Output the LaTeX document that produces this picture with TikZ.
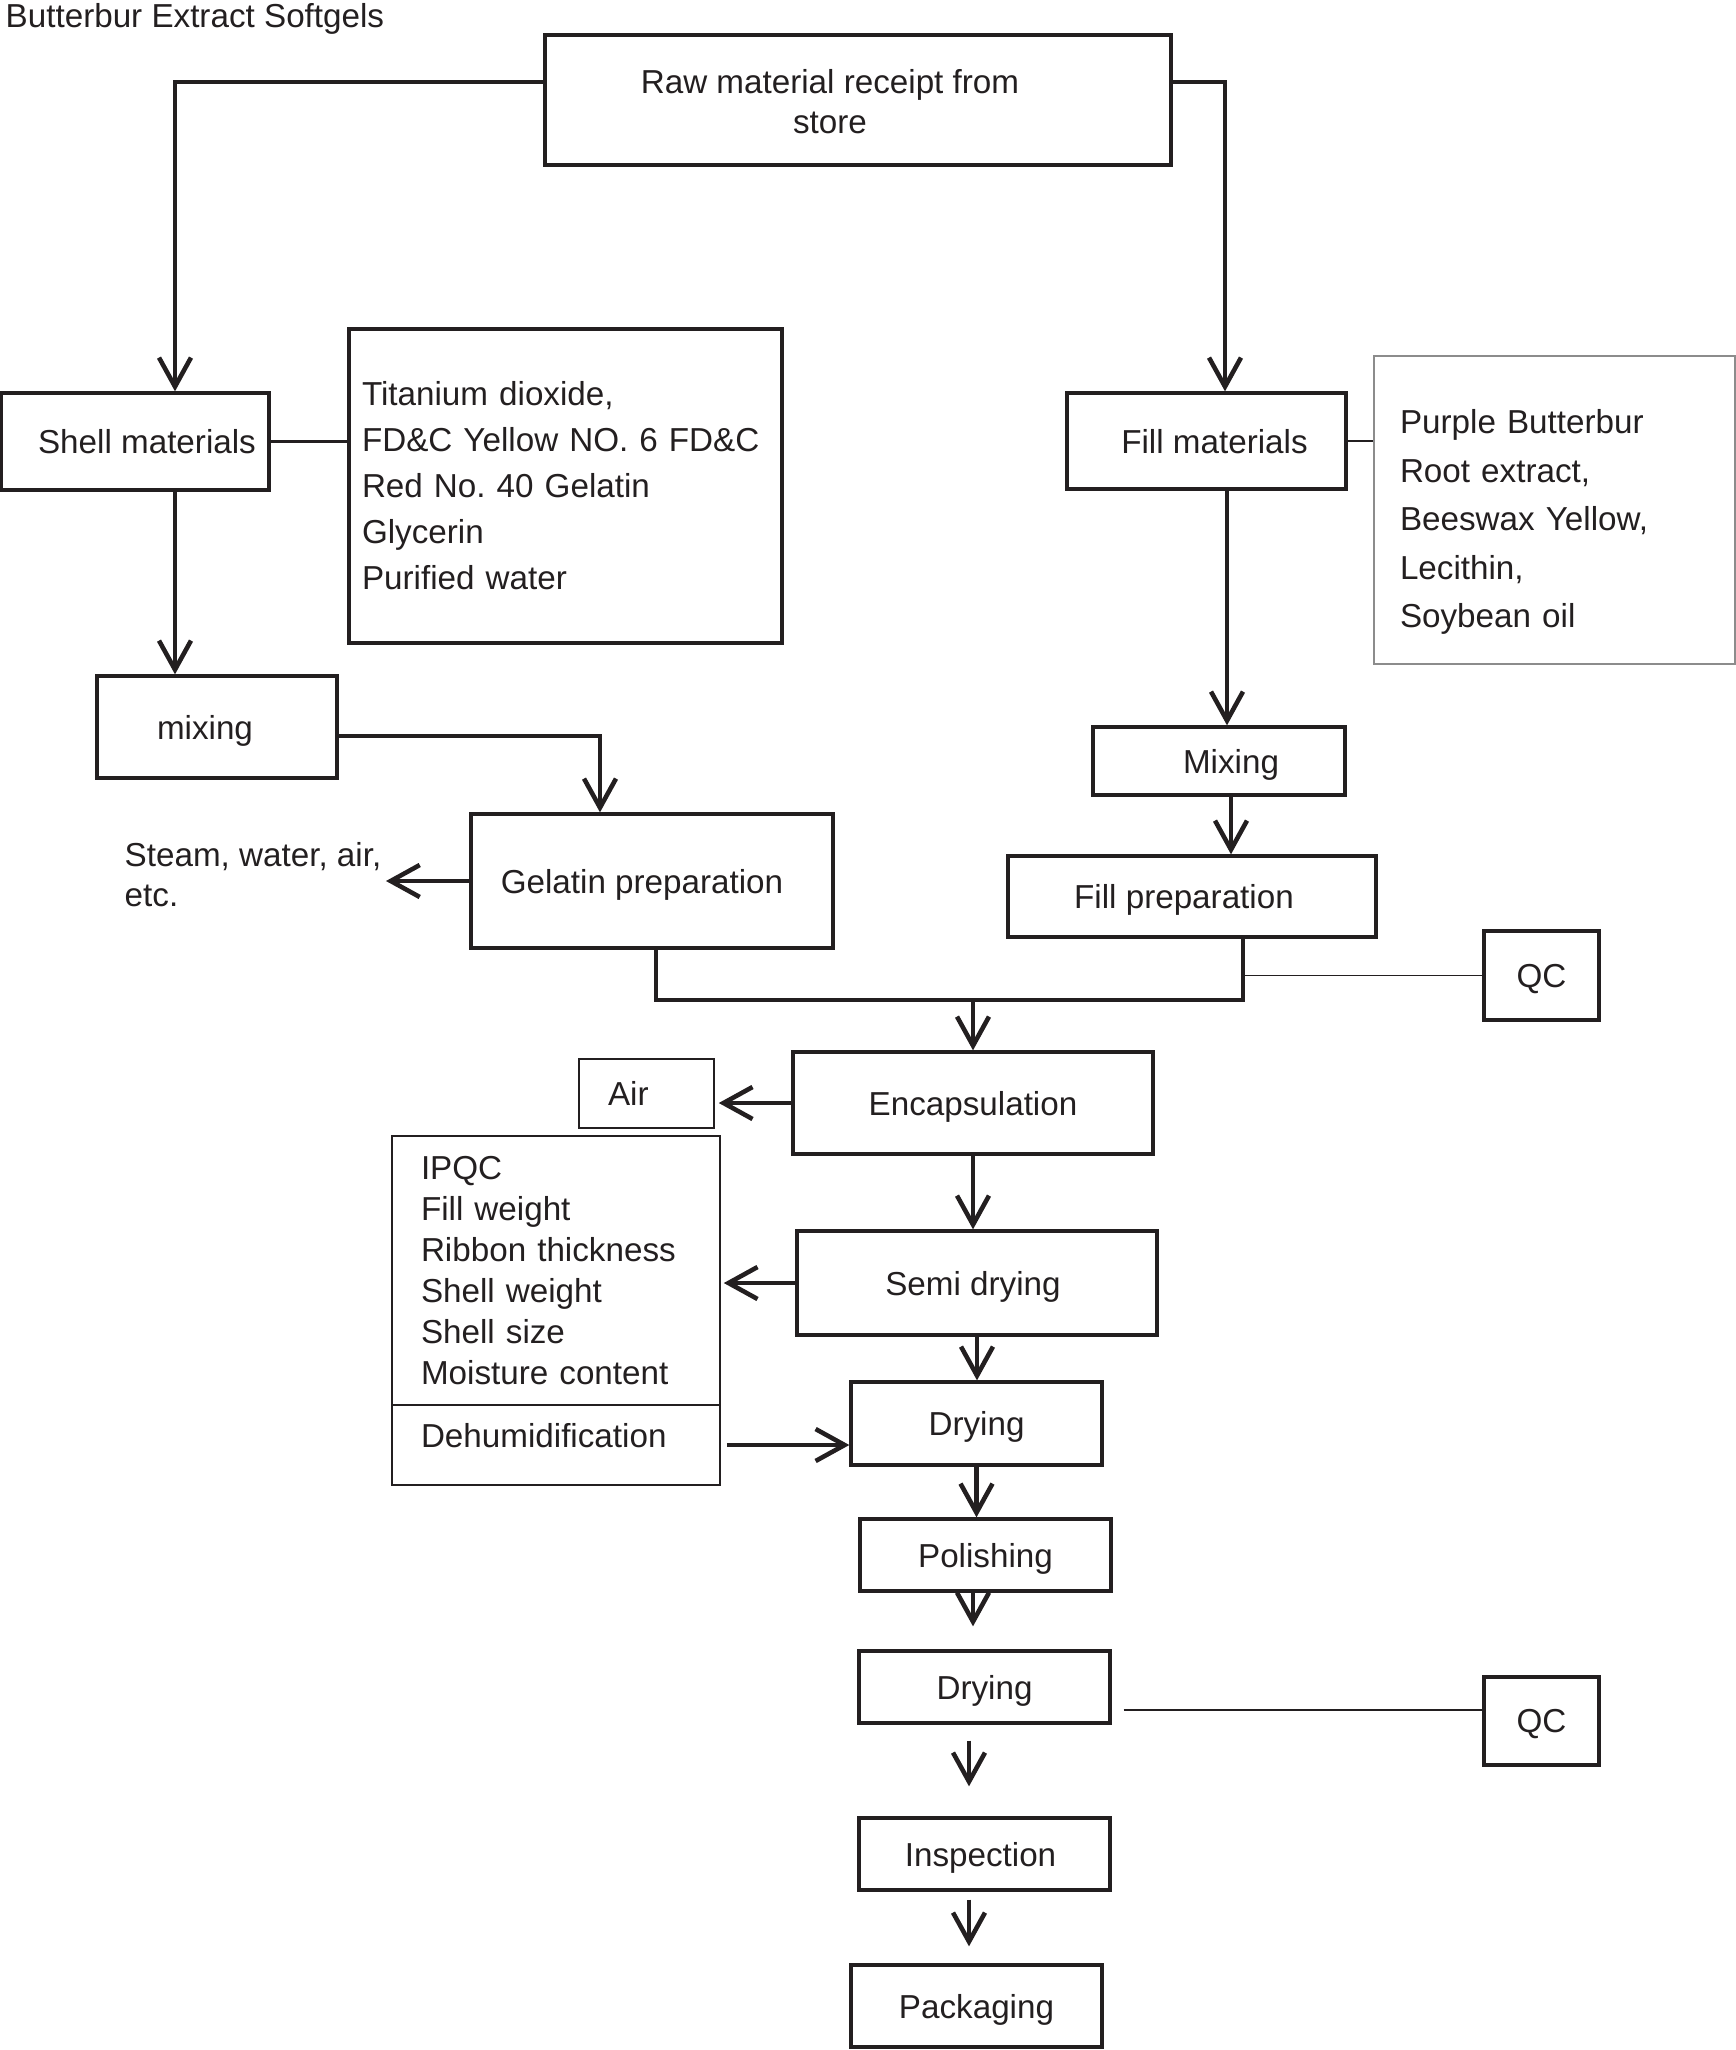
\documentclass[tikz,border=0pt]{standalone}
\usepackage{fontspec}
\setmainfont{Liberation Sans}
\usepackage{tikz}
\usetikzlibrary{calc,arrows.meta}
\definecolor{ink}{HTML}{231F20}
\definecolor{rule}{HTML}{8C8C8C}
\newcommand{\blk}[7][box]{\node[#1,minimum width={(#5-#3)*0.1mm},minimum height={(#6-#4)*0.1mm}] (#2) at ({(#3+#5)/2},{(#4+#6)/2}) {#7};}
\frenchspacing

\begin{document}
\begin{tikzpicture}[x=0.1mm,y=-0.1mm,font=\fontsize{9.45pt}{13pt}\selectfont,
  box/.style={draw=ink,line width=0.95pt,inner sep=0pt,align=center,text=ink,text depth=0pt},
  tbox/.style={draw=ink,line width=0.45pt,inner sep=0pt,text=ink},
  lst/.style={align=left,inner ysep=0pt,inner xsep=#1,text depth={}},
  lbl/.style={text=ink,inner sep=0pt,text depth=0pt},
  arr/.style={draw=ink,line width=1.3pt,-{Straight Barb[length=2.9mm,width=3.2mm]}},
  ln/.style={draw=ink,line width=#1},ln/.default=0.7pt]
\useasboundingbox (0,0) rectangle (1736,2050);
\node[anchor=base west,inner sep=0pt,text=ink] (ttl) at (5,27) {Butterbur Extract Softgels};
% raw materials, shell and fill branches
\blk[box,label={[lbl,xshift=-2.8mm,yshift=-0.15mm,align=center,font=\fontsize{9.45pt}{11.4pt}\selectfont]center:Raw material receipt from\\store}]{raw}{545}{35}{1171}{165}{}
\blk[box,label={[lbl,xshift=1.2mm]center:Shell materials}]{shell}{1}{393}{269}{490}{}
\blk[box,lst=1.3mm,text width=40.7mm,font=\fontsize{9.45pt}{13.1pt}\selectfont]{shellx}{349}{329}{782}{643}{Titanium dioxide,\\FD\&C Yellow NO. 6 FD\&C\\Red No. 40 Gelatin\\Glycerin\\Purified water}
\blk[box,label={[lbl,xshift=0.8mm]center:Fill materials}]{fill}{1067}{393}{1346}{489}{}
\blk[tbox,draw=rule,line width=0.35pt,lst=2.6mm,text width=30.9mm,text height=4.8mm,font=\fontsize{9.45pt}{13.8pt}\selectfont]{fillx}{1374}{356}{1735}{664}{Purple Butterbur\\Root extract,\\Beeswax Yellow,\\Lecithin,\\Soybean oil}
\blk[box,lst=6mm,text width=12mm,text depth=0pt]{mixs}{97}{676}{337}{778}{mixing}
\blk[box,label={[lbl,xshift=-1mm]center:Gelatin preparation}]{gel}{471}{814}{833}{948}{}
\node[anchor=west,align=left,inner sep=0pt,font=\fontsize{9.45pt}{11.4pt}\selectfont,text=ink] (steam) at (124,875) {Steam, water, air,\\etc.};
\blk[box,label={[lbl,xshift=1.2mm]center:Mixing}]{mixf}{1093}{727}{1345}{795}{}
\blk[box,label={[lbl,xshift=-0.8mm]center:Fill preparation}]{fprep}{1008}{856}{1376}{937}{}
\blk{qca}{1484}{931}{1599}{1020}{QC}
% main column
\blk{enc}{793}{1052}{1153}{1154}{Encapsulation}
\blk[tbox,lst=2.9mm,text width=7.7mm]{air}{579}{1059}{714}{1128}{Air}
\blk[box,label={[lbl,xshift=-0.4mm]center:Semi drying}]{semi}{797}{1231}{1157}{1335}{}
\blk[tbox,lst=2.9mm,text width=27mm,font=\fontsize{9.45pt}{11.7pt}\selectfont]{ipqc}{392}{1136}{720}{1405}{IPQC\\Fill weight\\Ribbon thickness\\Shell weight\\Shell size\\Moisture content}
\blk[tbox,lst=2.9mm,text width=27mm,text depth=2mm]{dehum}{392}{1405}{720}{1485}{Dehumidification}
\blk{drya}{851}{1382}{1102}{1465}{Drying}
\blk{pol}{860}{1519}{1111}{1591}{Polishing}
\blk{dryb}{859}{1651}{1110}{1723}{Drying}
\blk{qcb}{1484}{1677}{1599}{1765}{QC}
\blk[box,label={[lbl,xshift=-0.4mm]center:Inspection}]{insp}{859}{1818}{1110}{1890}{}
\blk{pack}{851}{1965}{1102}{2047}{Packaging}
% connectors
\draw[arr] (raw.west |- 0,82) -| (shell.north -| 175,0);
\draw[arr] (raw.east |- 0,82) -| (fill.north -| 1225,0);
\draw[ln] (shell.east) -- (shellx.west |- shell.east);
\draw[ln] (fill.east) -- (fillx.west |- fill.east);
\draw[arr] (shell.south -| 175,0) -- (mixs.north -| 175,0);
\draw[arr] (mixs.east |- 0,736) -| (gel.north -| 600,0);
\draw[arr,shorten >=0.4mm] (gel.west) -- (steam.east |- gel.west);
\draw[arr] (fill.south -| 1227,0) -- (mixf.north -| 1227,0);
\draw[arr] (mixf.south -| 1231,0) -- (fprep.north -| 1231,0);
\coordinate (jn) at (973,1000);
\draw[ln=1.2pt] (gel.south -| 656,0) |- (jn) -| (fprep.south -| 1243,0);
\draw[arr] (jn) -- (enc.north);
\draw[ln=0.35pt] (qca.west -| 1243,0) -- (qca.west);
\draw[arr,shorten >=0.4mm] (enc.west) -- (air.east |- enc.west);
\draw[arr] (enc.south) -- (enc.south |- semi.north);
\draw[arr,shorten >=0.3mm] (semi.west) -- (ipqc.east |- semi.west);
\draw[arr] (semi.south) -- (semi.south |- drya.north);
\draw[arr,shorten <=0.6mm] (dehum.east) -- (drya.west |- dehum.east);
\draw[arr] (drya.south) -- (drya.south |- pol.north);
\draw[arr,shorten >=2.3mm] (pol.south -| 973,0) -- (dryb.north -| 973,0);
\draw[ln=0.35pt,shorten <=1.2mm] (dryb.east |- 0,1710) -- (qcb.west |- 0,1710);
\draw[arr,shorten <=1.6mm,shorten >=3mm] (dryb.south -| 969,0) -- (insp.north -| 969,0);
\draw[arr,shorten <=0.8mm,shorten >=1.7mm] (insp.south -| 969,0) -- (pack.north -| 969,0);
\end{tikzpicture}
\end{document}
